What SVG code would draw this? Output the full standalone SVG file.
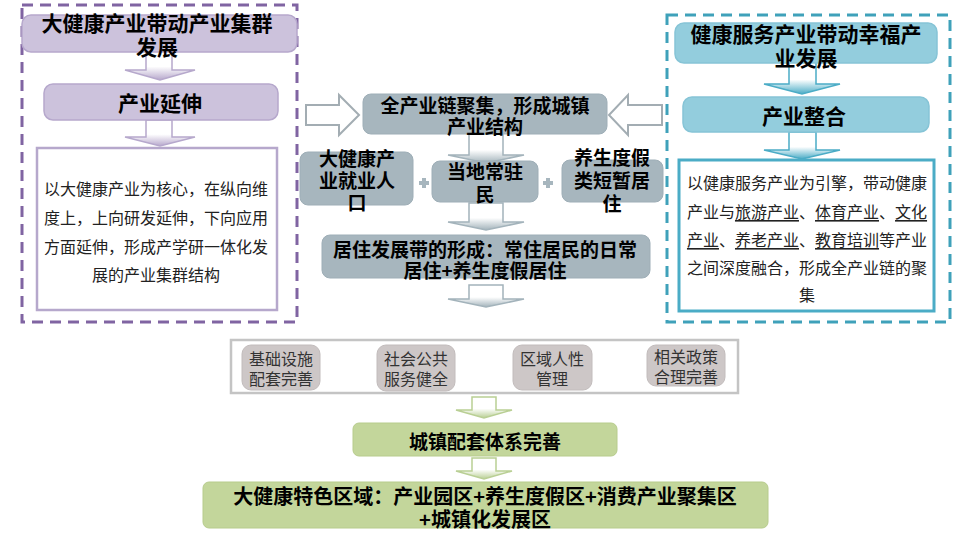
<svg xmlns="http://www.w3.org/2000/svg" width="960" height="540" viewBox="0 0 960 540">
<defs>
<linearGradient id="gP" x1="0" y1="0" x2="0" y2="1"><stop offset="0" stop-color="#ffffff"/><stop offset="0.55" stop-color="#ffffff"/><stop offset="1" stop-color="#b7a8cc"/></linearGradient>
<linearGradient id="gT" x1="0" y1="0" x2="0" y2="1"><stop offset="0" stop-color="#ffffff"/><stop offset="0.55" stop-color="#ffffff"/><stop offset="1" stop-color="#4bacc6"/></linearGradient>
<linearGradient id="gG" x1="0" y1="0" x2="0" y2="1"><stop offset="0" stop-color="#ffffff"/><stop offset="0.55" stop-color="#ffffff"/><stop offset="1" stop-color="#a3b3bb"/></linearGradient>
<linearGradient id="gN" x1="0" y1="0" x2="0" y2="1"><stop offset="0" stop-color="#ffffff"/><stop offset="0.55" stop-color="#ffffff"/><stop offset="1" stop-color="#b9cf94"/></linearGradient>
</defs>
<style>
text{font-family:"Noto Sans CJK SC","Noto Sans",sans-serif;text-anchor:middle;dominant-baseline:central;fill:#000}
.b{font-weight:700}
.purple{fill:#ccc2dc;stroke:#b6a8cc;stroke-width:1.5}
.teal{fill:#93cddd;stroke:#86c4d6;stroke-width:1.5}
.gb{fill:#a7b6be;stroke:#9eaeb7;stroke-width:1}
.green{fill:#c3d69b;stroke:#b7cc8c;stroke-width:1}
.grayb{fill:#cdc7c7;stroke:#c2bcbc;stroke-width:1}
.body{font-size:16px;fill:#222}
.small{font-size:16px;fill:#333}
u{}
.ul{text-decoration:underline}
</style>
<rect width="960" height="540" fill="#ffffff"/>

<g id="left-group">
<rect x="22" y="5" width="275" height="317" fill="none" stroke="#8064a2" stroke-width="3" stroke-dasharray="11 7"/>
</g>
<g id="right-group">
<rect x="667" y="15" width="283" height="307" fill="none" stroke="#3fa1ba" stroke-width="3" stroke-dasharray="11 7"/>
</g>

<g id="connectors">
<path d="M146,50 H172 V70 H195 L160,80 L125,70 H146 Z" fill="url(#gP)" stroke="#b6a8cc" stroke-width="1.5"/>
<path d="M146,120 H172 V137 H195 L160,146 L125,137 H146 Z" fill="url(#gP)" stroke="#b6a8cc" stroke-width="1.5"/>
<path d="M789,62 H816 V84 H840 L802,94 L764,84 H789 Z" fill="url(#gT)" stroke="#4bacc6" stroke-width="1.5"/>
<path d="M789,132 H816 V150 H840 L802,159 L764,150 H789 Z" fill="url(#gT)" stroke="#4bacc6" stroke-width="1.5"/>
<path d="M306,105 H339 V95 L359,115 L339,135 V125 H306 Z" fill="#ffffff" stroke="#a3adb3" stroke-width="2"/>
<path d="M662,105 H628 V95 L609,115 L628,135 V125 H662 Z" fill="#ffffff" stroke="#a3adb3" stroke-width="2"/>
<path d="M469,134 H503 V155 H524 L486,163 L448,155 H469 Z" fill="url(#gG)" stroke="#a3b3bb" stroke-width="1.5"/>
<path d="M469,203 H503 V222 H524 L486,230 L448,222 H469 Z" fill="url(#gG)" stroke="#a3b3bb" stroke-width="1.5"/>
<path d="M469,285 H503 V299 H524 L486,307 L448,299 H469 Z" fill="url(#gG)" stroke="#a3b3bb" stroke-width="1.5"/>
<path d="M472,397 H496 V410 H512 L484,418 L456,410 H472 Z" fill="url(#gN)" stroke="#b9cf94" stroke-width="1.5"/>
<path d="M472,458 H496 V471 H512 L484,479 L456,471 H472 Z" fill="url(#gN)" stroke="#b9cf94" stroke-width="1.5"/>
<path d="M419,183 h10 M424,178 v10" stroke="#a7b6be" stroke-width="4"/>
<path d="M543,183 h10 M548,178 v10" stroke="#a7b6be" stroke-width="4"/>
</g>

<g id="n-left-title">
<rect class="purple" x="22" y="15" width="275" height="37" rx="9"/>
<text class="b" x="157" y="22" font-size="21">大健康产业带动产业集群</text>
<text class="b" x="157" y="46" font-size="21">发展</text>
</g>
<g id="n-chanye-yanshen">
<rect class="purple" x="44" y="84" width="234" height="36" rx="9"/>
<text class="b" x="160" y="102" font-size="21">产业延伸</text>
</g>
<g id="n-left-text">
<rect x="37" y="148" width="240" height="162" fill="#ffffff" stroke="#b6a8cc" stroke-width="2.5"/>
<text class="body" x="156" y="188">以大健康产业为核心，在纵向维</text>
<text class="body" x="156" y="217">度上，上向研发延伸，下向应用</text>
<text class="body" x="156" y="246">方面延伸，形成产学研一体化发</text>
<text class="body" x="156" y="274">展的产业集群结构</text>
</g>

<g id="n-right-title">
<rect class="teal" x="675" y="23" width="262" height="40" rx="9"/>
<text class="b" x="806" y="33" font-size="21">健康服务产业带动幸福产</text>
<text class="b" x="806" y="57" font-size="21">业发展</text>
</g>
<g id="n-chanye-zhenghe">
<rect class="teal" x="683" y="97" width="246" height="35" rx="9"/>
<text class="b" x="804" y="115" font-size="21">产业整合</text>
</g>
<g id="n-right-text">
<rect x="679" y="160" width="255" height="151" fill="#ffffff" stroke="#4bacc6" stroke-width="3"/>
<text class="body" x="807" y="182">以健康服务产业为引擎，带动健康</text>
<text class="body" x="807" y="211">产业与<tspan class="ul">旅游产业</tspan>、<tspan class="ul">体育产业</tspan>、<tspan class="ul">文化</tspan></text>
<text class="body" x="807" y="239"><tspan class="ul">产业</tspan>、<tspan class="ul">养老产业</tspan>、<tspan class="ul">教育培训</tspan>等产业</text>
<text class="body" x="807" y="267">之间深度融合，形成全产业链的聚</text>
<text class="body" x="807" y="294">集</text>
</g>

<g id="n-quanchanye">
<rect class="gb" x="363" y="94" width="244" height="40" rx="8"/>
<text class="b" x="485" y="104" font-size="19">全产业链聚集，形成城镇</text>
<text class="b" x="485" y="125" font-size="19">产业结构</text>
</g>
<g id="n-jiuye">
<rect class="gb" x="300" y="152" width="113" height="53" rx="8"/>
<text class="b" x="357" y="157" font-size="19">大健康产</text>
<text class="b" x="357" y="179" font-size="19">业就业人</text>
<text class="b" x="357" y="201" font-size="19">口</text>
</g>
<g id="n-changzhu">
<rect class="gb" x="432" y="161" width="106" height="41" rx="8"/>
<text class="b" x="485" y="170" font-size="19">当地常驻</text>
<text class="b" x="485" y="193" font-size="19">民</text>
</g>
<g id="n-duanzan">
<rect class="gb" x="562" y="160" width="101" height="42" rx="8"/>
<text class="b" x="612" y="156" font-size="19">养生度假</text>
<text class="b" x="612" y="179" font-size="19">类短暂居</text>
<text class="b" x="612" y="202" font-size="19">住</text>
</g>
<g id="n-juzhu">
<rect class="gb" x="322" y="235" width="328" height="43" rx="8"/>
<text class="b" x="485" y="248" font-size="19">居住发展带的形成：常住居民的日常</text>
<text class="b" x="485" y="269" font-size="19">居住+养生度假居住</text>
</g>

<g id="n-peitao-frame">
<rect x="231" y="340" width="507" height="53" fill="#ffffff" stroke="#c4c4c4" stroke-width="2.5"/>
</g>
<g id="n-jichu">
<rect class="grayb" x="242" y="345" width="78" height="45" rx="9"/>
<text class="small" x="281" y="358">基础设施</text>
<text class="small" x="281" y="378">配套完善</text>
</g>
<g id="n-gonggong">
<rect class="grayb" x="377" y="345" width="78" height="46" rx="9"/>
<text class="small" x="416" y="358">社会公共</text>
<text class="small" x="416" y="378">服务健全</text>
</g>
<g id="n-renxing">
<rect class="grayb" x="513" y="345" width="79" height="45" rx="9"/>
<text class="small" x="552" y="358">区域人性</text>
<text class="small" x="552" y="378">管理</text>
</g>
<g id="n-zhengce">
<rect class="grayb" x="647" y="345" width="78" height="41" rx="9"/>
<text class="small" x="686" y="356">相关政策</text>
<text class="small" x="686" y="376">合理完善</text>
</g>

<g id="n-chengzhen">
<rect class="green" x="353" y="423" width="264" height="33" rx="6"/>
<text class="b" x="485" y="440" font-size="19">城镇配套体系完善</text>
</g>
<g id="n-tese">
<rect class="green" x="203" y="482" width="565" height="46" rx="6"/>
<text class="b" x="485" y="495" font-size="20">大健康特色区域：产业园区+养生度假区+消费产业聚集区</text>
<text class="b" x="485" y="518" font-size="20">+城镇化发展区</text>
</g>
</svg>
